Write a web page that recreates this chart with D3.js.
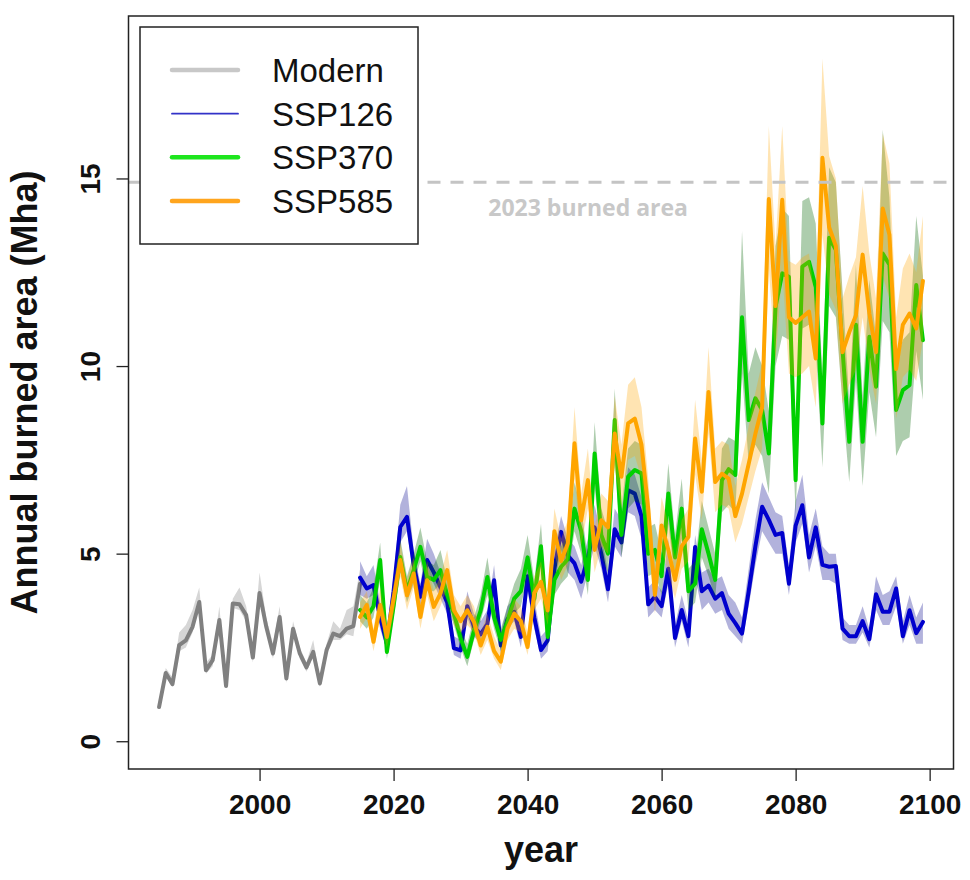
<!DOCTYPE html>
<html>
<head>
<meta charset="utf-8">
<script src="https://cdn.jsdelivr.net/npm/d3@7"></script>
<style>
  html, body { margin: 0; padding: 0; background: #fff; }
  svg { display: block; }
</style>
</head>
<body>
<svg id="chart" width="970" height="880"></svg>
<script>
// ---------------- DATA ----------------
const modernYears = d3.range(1985, 2016);
const modern   = [0.91,1.82,1.52,2.56,2.69,3.05,3.71,1.89,2.16,3.23,1.47,3.67,3.65,3.36,2.23,3.95,3.05,2.34,3.31,1.67,3.0,2.34,1.97,2.38,1.54,2.43,2.87,2.8,3.0,3.07,4.2];
const modernLo = [0.85,1.75,1.45,2.4,2.5,2.9,3.6,1.8,2.0,3.1,1.4,3.55,3.5,3.2,2.1,3.8,2.9,2.2,3.2,1.55,2.9,2.2,1.85,2.25,1.45,2.3,2.7,2.7,2.85,2.8,4.0];
const modernHi = [1.0,1.95,1.7,2.9,3.1,3.5,4.1,2.1,2.3,3.6,1.6,3.8,4.1,3.6,2.5,4.5,3.3,2.6,3.6,1.85,3.2,2.5,2.1,2.7,1.7,2.6,3.2,3.0,3.5,3.6,4.6];

const sspYears = d3.range(2015, 2100);

const ssp126 = [
  4.36, 4.07, 4.16, 3.3, 2.6,
  4.0, 5.71, 5.98, 4.7, 3.85, 4.83, 4.5, 4.1, 3.7, 2.48,
  2.42, 3.6, 3.05, 2.85, 3.13, 4.29, 2.55, 3.25, 3.45, 2.78,
  4.4, 3.3, 2.43, 2.69, 4.6, 5.58, 4.95, 4.74, 4.25, 4.9,
  5.7, 5.0, 4.05, 5.65, 5.3, 6.69, 6.6, 6.0, 3.65, 3.85,
  3.6, 4.6, 2.75, 3.5, 2.8, 5.18, 4.0, 4.15, 3.8, 3.95,
  3.4, 3.15, 2.87, 4.0, 5.2, 6.25, 5.9, 5.5, 5.55, 4.2,
  5.75, 6.29, 4.9, 5.7, 4.7, 4.65, 4.67, 3.0, 2.8, 2.8,
  3.2, 2.72, 3.92, 3.45, 3.45, 4.07, 2.8, 3.49, 2.88, 3.18];
const ssp126Lo = [
  3.9, 3.8, 3.9, 3.0, 2.4,
  3.7, 5.3, 5.6, 4.4, 3.6, 4.5, 4.2, 3.8, 3.4, 2.3,
  2.2, 3.3, 2.8, 2.6, 2.9, 3.9, 2.3, 3.0, 3.2, 2.5,
  4.0, 3.0, 2.2, 2.4, 4.2, 5.1, 4.5, 4.3, 3.8, 4.5,
  5.2, 4.6, 3.7, 5.2, 4.9, 6.1, 6.0, 5.4, 3.3, 3.5,
  3.3, 4.2, 2.5, 3.2, 2.5, 4.4, 3.5, 3.7, 3.4, 3.5,
  3.0, 2.8, 2.6, 3.6, 4.7, 5.6, 5.3, 5.0, 5.0, 3.9,
  5.3, 5.8, 4.5, 5.2, 4.3, 4.3, 4.2, 2.7, 2.6, 2.6,
  2.9, 2.5, 3.5, 3.1, 3.1, 3.6, 2.6, 3.1, 2.6, 2.6];
const ssp126Hi = [
  4.8, 4.4, 4.7, 3.7, 2.9,
  4.4, 6.3, 6.8, 5.1, 4.2, 5.4, 5.0, 4.5, 4.0, 2.8,
  2.7, 4.0, 3.4, 3.2, 3.5, 4.7, 2.9, 3.6, 3.8, 3.1,
  4.8, 3.8, 2.8, 3.0, 5.1, 6.0, 5.4, 5.2, 4.7, 5.4,
  6.3, 5.5, 4.5, 6.2, 5.9, 7.3, 7.1, 6.5, 4.1, 4.3,
  4.0, 5.4, 3.1, 3.9, 3.2, 5.5, 4.5, 4.6, 4.3, 4.4,
  3.9, 3.7, 3.3, 4.6, 5.9, 6.9, 6.5, 6.1, 6.0, 4.7,
  6.4, 7.1, 5.5, 6.2, 5.2, 5.0, 5.0, 3.3, 3.1, 3.1,
  3.6, 3.0, 4.4, 3.9, 4.0, 4.4, 3.2, 3.9, 3.3, 3.7];

const ssp370 = [
  3.5, 3.3, 3.6, 4.83, 2.38,
  3.6, 4.91, 4.0, 4.56, 5.18, 4.38, 4.3, 4.56, 3.9, 3.4,
  2.75, 2.25, 2.95, 3.49, 4.38, 3.3, 2.7, 3.2, 3.8, 4.0,
  4.9, 3.8, 5.2, 2.78, 4.3, 4.65, 4.85, 6.2, 5.6, 4.3,
  7.67, 5.5, 5.0, 8.56, 5.5, 7.05, 7.23, 7.14, 5.0, 5.1,
  4.4, 6.6, 4.9, 6.2, 4.0, 4.2, 5.65, 5.0, 4.3, 6.96,
  7.25, 7.1, 11.3, 8.56, 9.14, 8.83, 7.67, 11.58, 12.47, 12.38,
  6.96, 12.65, 12.78, 12.1, 8.47, 13.42, 13.1, 10.43, 7.98, 11.1,
  7.98, 10.78, 9.45, 13.0, 12.7, 8.83, 9.36, 9.49, 12.16, 10.69];
const ssp370Lo = [
  3.2, 3.0, 3.3, 4.3, 2.2,
  3.3, 4.5, 3.7, 4.2, 4.8, 4.0, 4.0, 4.2, 3.6, 3.1,
  2.5, 2.0, 2.7, 3.2, 3.9, 3.0, 2.4, 2.9, 3.4, 3.6,
  4.4, 3.4, 4.7, 2.5, 3.9, 4.2, 4.4, 5.6, 5.0, 3.9,
  6.8, 4.9, 4.5, 7.6, 4.9, 6.2, 6.4, 6.3, 4.4, 4.5,
  3.9, 5.8, 4.3, 5.4, 3.5, 3.7, 4.9, 4.4, 3.8, 6.1,
  6.3, 6.1, 9.8, 7.4, 7.9, 7.6, 6.6, 10.0, 10.8, 10.7,
  6.0, 11.0, 11.1, 10.5, 7.3, 11.6, 11.3, 9.0, 6.9, 9.6,
  6.8, 9.3, 8.1, 11.2, 10.9, 7.6, 8.0, 8.1, 10.4, 9.1];
const ssp370Hi = [
  3.9, 3.7, 4.1, 5.3, 2.7,
  4.0, 5.4, 4.4, 5.0, 5.7, 4.8, 4.7, 5.1, 4.3, 3.8,
  3.0, 2.6, 3.3, 3.9, 4.9, 3.7, 3.0, 3.6, 4.2, 4.6,
  5.5, 4.3, 5.8, 3.2, 4.8, 5.2, 5.5, 6.9, 6.2, 4.9,
  8.5, 6.2, 5.6, 9.4, 6.2, 7.8, 8.0, 7.9, 5.7, 5.8,
  5.0, 7.4, 5.5, 7.0, 4.6, 4.8, 6.4, 5.7, 5.0, 7.8,
  8.1, 8.0, 13.6, 9.8, 10.5, 10.0, 8.8, 13.2, 14.2, 14.0,
  8.0, 14.4, 14.5, 13.8, 9.7, 15.3, 14.9, 12.0, 9.1, 12.7,
  9.2, 12.3, 10.8, 16.3, 14.5, 10.1, 10.7, 10.9, 14.0, 12.4];

const ssp585 = [
  3.31, 3.63, 2.65, 3.63, 2.78,
  3.8, 4.83, 3.89, 4.47, 3.31, 4.29, 3.58, 3.94, 4.56, 3.49,
  3.2, 3.49, 3.18, 2.55, 3.05, 2.4, 2.12, 3.0, 3.4, 3.2,
  2.51, 3.95, 4.25, 3.49, 5.6, 4.8, 5.27, 7.94, 5.89, 6.96,
  5.1, 5.89, 5.7, 8.2, 7.05, 8.47, 8.6, 7.9, 6.2, 3.9,
  5.75, 5.1, 4.3, 5.2, 5.45, 8.07, 6.65, 9.31, 6.91, 7.13,
  7.0, 6.0, 6.6, 7.4, 8.2, 8.9, 14.45, 11.6, 14.43, 11.3,
  11.15, 11.3, 11.45, 10.2, 15.55, 13.7, 13.2, 10.37, 10.9, 11.35,
  12.97, 11.4, 10.37, 14.2, 13.5, 9.92, 11.1, 11.4, 11.0, 12.27];
const ssp585Lo = [
  3.0, 3.3, 2.4, 3.3, 2.5,
  3.4, 4.4, 3.5, 4.1, 3.0, 3.9, 3.2, 3.6, 4.1, 3.1,
  2.9, 3.1, 2.9, 2.3, 2.7, 2.2, 1.9, 2.7, 3.0, 2.9,
  2.3, 3.5, 3.8, 3.1, 5.0, 4.3, 4.7, 7.0, 5.2, 6.2,
  4.5, 5.2, 5.0, 7.3, 6.2, 7.5, 7.6, 7.0, 5.5, 3.4,
  5.1, 4.5, 3.8, 4.6, 4.8, 7.1, 5.9, 8.2, 6.1, 6.3,
  6.2, 5.3, 5.8, 6.5, 7.2, 7.8, 12.6, 10.1, 12.6, 9.8,
  9.7, 9.8, 10.0, 8.9, 13.5, 11.9, 11.5, 9.0, 9.5, 9.9,
  11.3, 9.9, 9.0, 12.4, 11.8, 8.6, 9.7, 9.9, 9.6, 10.7];
const ssp585Hi = [
  3.7, 4.0, 3.0, 4.1, 3.1,
  4.2, 5.3, 4.3, 4.9, 3.7, 4.8, 4.0, 4.4, 5.1, 3.9,
  3.6, 3.9, 3.6, 2.9, 3.4, 2.8, 2.4, 3.4, 3.8, 3.6,
  2.9, 4.4, 4.8, 3.9, 6.2, 5.4, 5.9, 8.9, 6.6, 7.8,
  5.7, 6.6, 6.4, 9.2, 7.9, 9.5, 9.7, 8.9, 7.0, 4.5,
  6.5, 5.8, 4.9, 5.9, 6.2, 9.1, 7.5, 10.5, 7.8, 8.0,
  7.9, 6.8, 7.5, 8.4, 9.3, 10.1, 16.4, 13.2, 16.4, 12.8,
  12.7, 12.9, 13.0, 11.6, 18.2, 15.6, 15.0, 11.8, 12.4, 12.9,
  14.8, 13.0, 11.8, 16.2, 15.4, 11.3, 12.6, 13.0, 12.5, 14.0];

const burned2023 = 14.9;
const xTicks = [2000, 2020, 2040, 2060, 2080, 2100];
const yTicks = [0, 5, 10, 15];
const legendLabels = ["Modern", "SSP126", "SSP370", "SSP585"];

// ---------------- LAYOUT ----------------
const svg = d3.select("#chart");
const L = 128.5, R = 953.5, T = 16, B = 769;
const x = d3.scaleLinear().domain([1980.44, 2103.56]).range([L, R]);
const y = d3.scaleLinear().domain([-0.74, 19.33]).range([B, T]);

const FONT = "'Liberation Sans', Arial, Helvetica, sans-serif";

svg.append("defs").append("clipPath").attr("id", "plotclip")
  .append("rect").attr("x", L).attr("y", T).attr("width", R - L).attr("height", B - T);

const plot = svg.append("g").attr("clip-path", "url(#plotclip)");

function series(years, v, lo, hi) {
  return years.map((yr, i) => ({ yr, v: v[i], lo: lo[i], hi: hi[i] }));
}
const area = d3.area().x(d => x(d.yr)).y0(d => y(d.lo)).y1(d => y(d.hi));
const line = d3.line().x(d => x(d.yr)).y(d => y(d.v));

const groups = [
  { data: series(modernYears, modern, modernLo, modernHi), band: "rgb(214,214,214)", col: "#808080" },
  { data: series(sspYears, ssp126, ssp126Lo, ssp126Hi), band: "rgba(0,0,139,0.3)", col: "#0000cd" },
  { data: series(sspYears, ssp370, ssp370Lo, ssp370Hi), band: "rgba(0,100,0,0.32)", col: "#00d000" },
  { data: series(sspYears, ssp585, ssp585Lo, ssp585Hi), band: "rgba(255,165,0,0.3)", col: "#ffa500" }
];

groups.forEach(g => {
  plot.append("path").datum(g.data).attr("d", area).attr("fill", g.band).attr("stroke", "none");
  plot.append("path").datum(g.data).attr("d", line)
    .attr("fill", "none").attr("stroke", g.col).attr("stroke-width", 4)
    .attr("stroke-linejoin", "round").attr("stroke-linecap", "round");
});

// 2023 reference line
plot.append("line")
  .attr("x1", L).attr("x2", R).attr("y1", y(burned2023)).attr("y2", y(burned2023))
  .attr("stroke", "#c4c4c4").attr("stroke-width", 3).attr("stroke-dasharray", "13,10");

svg.append("text")
  .attr("x", 688).attr("y", y(burned2023) + 34)
  .attr("text-anchor", "end")
  .attr("font-family", "'Open Sans', 'Noto Sans', sans-serif")
  .attr("font-weight", 700).attr("font-size", 23)
  .attr("fill", "#c8c8c8")
  .text("2023 burned area");

// ---------------- AXES ----------------
const xAxis = svg.append("g").attr("transform", `translate(0,${B})`)
  .call(d3.axisBottom(x).tickValues(xTicks).tickFormat(d3.format("d")).tickSize(12).tickPadding(13));
xAxis.select(".domain").remove();
xAxis.selectAll("line").attr("stroke", "#222").attr("stroke-width", 1.3);
xAxis.selectAll("text").attr("font-family", FONT).attr("font-weight", 700)
  .attr("font-size", 28).attr("fill", "#111");

const yAxis = svg.append("g").attr("transform", `translate(${L},0)`)
  .call(d3.axisLeft(y).tickValues(yTicks).tickSize(12));
yAxis.select(".domain").remove();
yAxis.selectAll("line").attr("stroke", "#222").attr("stroke-width", 1.3);
yAxis.selectAll("text")
  .attr("x", null).attr("dy", null)
  .attr("text-anchor", "middle")
  .attr("transform", "translate(-29,0) rotate(-90)")
  .attr("font-family", FONT).attr("font-weight", 700)
  .attr("font-size", 28).attr("fill", "#111");

// frame
svg.append("rect").attr("x", L).attr("y", T).attr("width", R - L).attr("height", B - T)
  .attr("fill", "none").attr("stroke", "#222").attr("stroke-width", 1.5);

// axis titles
svg.append("text").attr("x", (L + R) / 2).attr("y", 862)
  .attr("text-anchor", "middle").attr("font-family", FONT).attr("font-weight", 700)
  .attr("font-size", 36).attr("fill", "#111").text("year");
svg.append("text").attr("transform", `translate(37,${(T + B) / 2}) rotate(-90)`)
  .attr("text-anchor", "middle").attr("font-family", FONT).attr("font-weight", 700)
  .attr("font-size", 36).attr("fill", "#111").text("Annual burned area (Mha)");

// ---------------- LEGEND ----------------
const leg = svg.append("g");
leg.append("rect").attr("x", 140).attr("y", 27).attr("width", 278).attr("height", 217)
  .attr("fill", "#fff").attr("stroke", "#222").attr("stroke-width", 1.5);
const legStyle = [
  { col: "#c8c8c8", w: 4.5 },
  { col: "#3232c8", w: 1.8 },
  { col: "#1ee61e", w: 4.5 },
  { col: "#ffa51e", w: 4.5 }
];
const legY = d3.scalePoint().domain(legendLabels).range([70, 201]);
legendLabels.forEach((lab, i) => {
  const yy = legY(lab);
  leg.append("line").attr("x1", 172).attr("x2", 238).attr("y1", yy).attr("y2", yy)
    .attr("stroke", legStyle[i].col).attr("stroke-width", legStyle[i].w).attr("stroke-linecap", "round");
  leg.append("text").attr("x", 272).attr("y", yy + 12)
    .attr("font-family", FONT).attr("font-size", 33).attr("fill", "#111").text(lab);
});
</script>
</body>
</html>
